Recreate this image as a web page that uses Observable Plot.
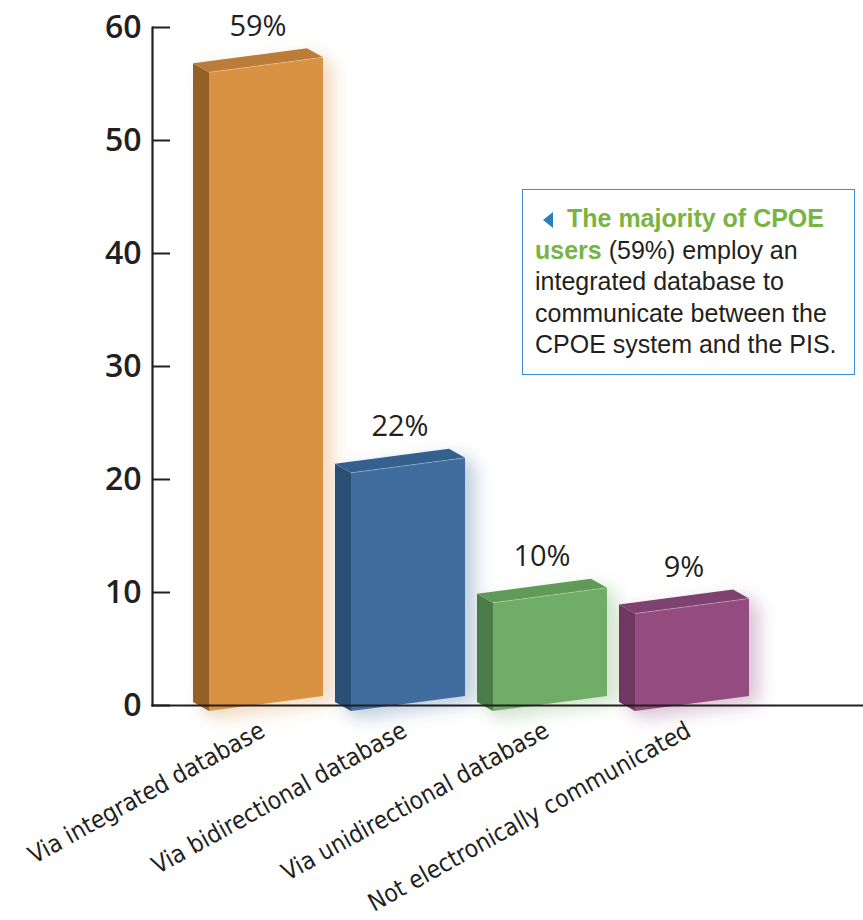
<!DOCTYPE html>
<html>
<head>
<meta charset="utf-8">
<script src="https://cdn.jsdelivr.net/npm/d3@7"></script>
<script src="https://cdn.jsdelivr.net/npm/@observablehq/plot@0.6"></script>
<style>
  body { margin: 0; background: #fff; }
  #wrap { position: relative; width: 863px; height: 920px; }
  #note {
    position: absolute; left: 522px; top: 189px; width: 333px; height: 186px;
    box-sizing: border-box; border: 1.5px solid #3d8fd1; background: #fff;
    padding: 13px 0 0 12px;
    font-family: "Liberation Sans", Arial, sans-serif; font-size: 25px; line-height: 31.5px;
    color: #231f20;
  }
  #note b { color: #79b443; }
  #note .tri {
    display: inline-block; width: 0; height: 0; vertical-align: -1px;
    border-top: 8px solid transparent; border-bottom: 8px solid transparent;
    border-right: 10px solid #2a7fc1; margin: 0 14px 0 8px;
  }
</style>
</head>
<body>
<div id="wrap">
  <div id="chart"></div>
  <div id="note"><span class="tri"></span><b>The majority of CPOE</b> <b>users</b> (59%) employ an integrated database to communicate between the CPOE system and the PIS.</div>
</div>
<script>
// ---- data ----
const categories = ["Via integrated database", "Via bidirectional database", "Via unidirectional database", "Not electronically communicated"];
const values = [59, 22, 10, 9];
const yTicks = [0, 10, 20, 30, 40, 50, 60];

// ---- styles ----
const frontColors = ["#d89242", "#3f6d9e", "#6fae68", "#934c80"];
const sideColors  = ["#956127", "#2c5075", "#4a7b48", "#6e3760"];
const topColors   = ["#bb7c37", "#365e8c", "#5e9a58", "#7e4270"];
const ink = "#231f20";

const data = categories.map((c, i) => ({cat: c, value: values[i], i}));

const DEPTH_K = 0.958;     // perspective shrink of the front face
const SIDE_DX = -16, SIDE_DY = -9;
const SKEW_L = 6, SKEW_R = -9;

const chart = Plot.plot({
  width: 863,
  height: 920,
  marginLeft: 152,
  marginRight: 0,
  marginTop: 27,
  marginBottom: 215,
  style: {background: "transparent", overflow: "visible"},
  x: {type: "band", domain: categories, paddingInner: 0.1958, paddingOuter: 0.584, align: 0.335, axis: null},
  y: {domain: [0, 60], axis: null},
  marks: [
    Plot.barY(data, {
      x: "cat", y: "value",
      render(I, scales, V, dims, ctx) {
        const g = d3.create("svg:g");
        const defs = g.append("defs");
        const f = defs.append("filter").attr("id", "glow").attr("x", "-30%").attr("y", "-30%").attr("width", "160%").attr("height", "160%");
        f.append("feGaussianBlur").attr("in", "SourceGraphic").attr("stdDeviation", 9).attr("result", "b");
        f.append("feOffset").attr("in", "b").attr("dx", 10).attr("dy", 7).attr("result", "o");
        const ct = f.append("feComponentTransfer").attr("in", "o").attr("result", "s");
        ct.append("feFuncA").attr("type", "linear").attr("slope", 0.35);
        const m = f.append("feMerge");
        m.append("feMergeNode").attr("in", "s");
        m.append("feMergeNode").attr("in", "SourceGraphic");

        const bwRaw = scales.x.bandwidth;
        const bw = typeof bwRaw === "function" ? bwRaw() : bwRaw;
        const y0 = scales.y(0);
        for (const i of I) {
          const d = data[i];
          const xl = scales.x(d.cat), xr = xl + bw;
          const h = (y0 - scales.y(d.value)) * DEPTH_K;
          const blY = y0 + SKEW_L, brY = y0 + SKEW_R;
          const tlY = blY - h, trY = brY - h;
          const pts = a => a.map(p => p.join(",")).join(" ");
          const bar = g.append("g").attr("filter", "url(#glow)");
          bar.append("polygon").attr("fill", sideColors[d.i])
            .attr("points", pts([[xl, blY], [xl, tlY], [xl + SIDE_DX, tlY + SIDE_DY], [xl + SIDE_DX, blY + SIDE_DY]]));
          bar.append("polygon").attr("fill", topColors[d.i])
            .attr("points", pts([[xl, tlY], [xr, trY], [xr + SIDE_DX, trY + SIDE_DY], [xl + SIDE_DX, tlY + SIDE_DY]]));
          bar.append("polygon").attr("fill", frontColors[d.i])
            .attr("points", pts([[xl, blY], [xr, brY], [xr, trY], [xl, tlY]]));
          bar.append("line").attr("stroke", "#ffffff").attr("stroke-opacity", 0.35).attr("stroke-width", 0.8)
            .attr("x1", xl).attr("y1", tlY).attr("x2", xr).attr("y2", trY);
          g.append("text")
            .attr("x", (xl + xr) / 2 + SIDE_DX / 2)
            .attr("y", (tlY + trY) / 2 + SIDE_DY / 2 - 36)
            .attr("text-anchor", "middle").attr("dominant-baseline", "central")
            .attr("font-family", "Open Sans, Liberation Sans, Arial, sans-serif").attr("font-size", 29)
            .attr("font-weight", 500)
            .attr("fill", ink)
            .text(d.value + "%");
        }
        return g.node();
      }
    }),
    Plot.frame({anchor: "left", stroke: ink, strokeWidth: 2.2}),
    Plot.frame({anchor: "bottom", stroke: ink, strokeWidth: 2.2}),
    Plot.axisY({
      ticks: yTicks, tickSize: -18, tickPadding: 29, tickFormat: d => d, label: null,
      stroke: ink, strokeWidth: 2, fill: ink,
      fontSize: 32, fontWeight: 600, fontFamily: "Open Sans, Liberation Sans, Arial, sans-serif"
    }),
    Plot.text(data, {
      x: "cat", y: () => 0, text: "cat", rotate: -29, textAnchor: "end",
      dy: 30, dx: 0, fill: ink, fontSize: 24.5,
      fontFamily: "DejaVu Sans Condensed, DejaVu Sans, sans-serif", lineAnchor: "bottom"
    })
  ]
});
document.getElementById("chart").appendChild(chart);
</script>
</body>
</html>
